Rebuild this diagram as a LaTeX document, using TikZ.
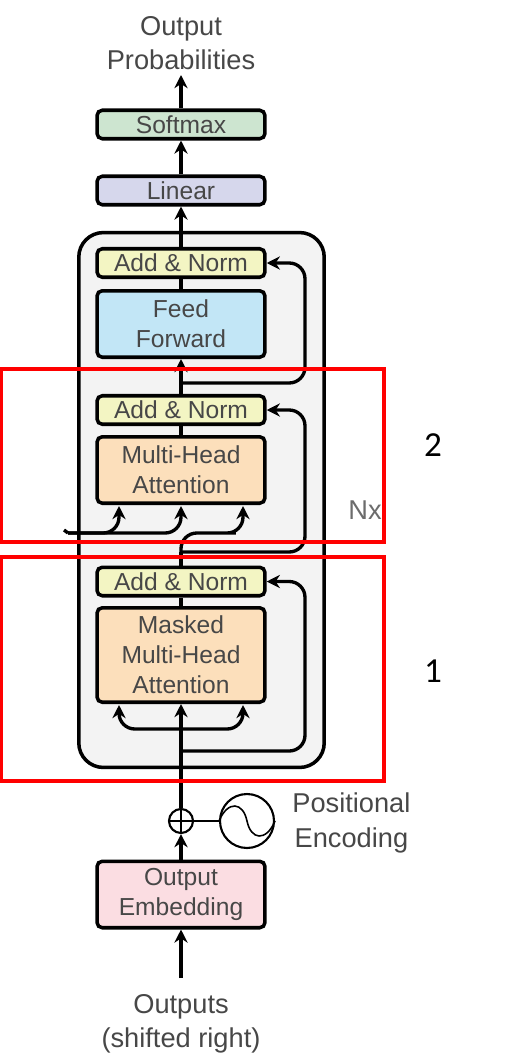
\documentclass[tikz,border=0pt]{standalone}
\usepackage{xcolor}
\usepackage{fontspec}
\usepackage{tikz}
\usetikzlibrary{arrows.meta}
\setmainfont{Liberation Sans}
\newfontfamily\numfont{Carlito}

\definecolor{softgreen}{HTML}{CDE5D0}
\definecolor{softviolet}{HTML}{D6D7EC}
\definecolor{softyellow}{HTML}{F3F5C3}
\definecolor{softblue}{HTML}{C2E6F6}
\definecolor{softorange}{HTML}{FCDFBB}
\definecolor{softpink}{HTML}{FBDDE2}
\definecolor{panelgray}{HTML}{F3F3F3}
\definecolor{labelgray}{HTML}{474747}

\tikzset{
	block/.style={draw=black,line width=2pt,rounded corners=3pt,minimum width=3.36cm,inner sep=0pt,align=center,text=labelgray,font=\fontsize{14}{17}\selectfont},
	thinblock/.style={block,minimum height=0.57cm},
	midblock/.style={block,minimum height=1.33cm},
	plaintext/.style={inner sep=0pt,align=center,text=labelgray,font=\fontsize{15.5}{19.5}\selectfont},
	flow/.style={line width=1.9pt,-{Stealth[length=7.5pt,width=7.5pt]}},
	plainflow/.style={line width=1.9pt},
	curveflow/.style={flow,rounded corners=9pt},
	redbox/.style={draw=red,line width=1.8pt},
}

\begin{document}
\begin{tikzpicture}[x=0.02cm,y=-0.02cm]
	\useasboundingbox (0,0) rectangle (504,1064);

	\node[draw=black,line width=2pt,fill=panelgray,rounded corners=14pt,minimum width=4.91cm,minimum height=10.7cm] (panel) at (201.5,500) {};

	\node[plaintext] (outprob) at (181,43) {Output\\Probabilities};
	\node[thinblock,fill=softgreen] (softmax) at (181,124.5) {Softmax};
	\node[thinblock,fill=softviolet] (linear) at (181,190.5) {Linear};
	\node[thinblock,fill=softyellow] (addtop) at (181,263) {Add \& Norm};
	\node[midblock,fill=softblue] (feed) at (181,324) {Feed\\Forward};
	\node[thinblock,fill=softyellow] (addmid) at (181,410) {Add \& Norm};
	\node[midblock,fill=softorange] (multi) at (181,470) {Multi-Head\\Attention};
	\node[thinblock,fill=softyellow] (addlow) at (181,581.5) {Add \& Norm};
	\node[block,minimum height=1.89cm,fill=softorange] (masked) at (181,655) {Masked\\Multi-Head\\Attention};
	\node[midblock,fill=softpink] (embed) at (181,894.5) {Output\\Embedding};
	\node[plaintext] (outputs) at (181,1024) {Outputs\\(shifted right)};
	\node[plaintext,anchor=west] (posenc) at (292,823) {Positional\\Encoding};
	\node[plaintext,text=labelgray!80] (nx) at (365,510) {Nx};

	\node[draw=black,line width=1.2pt,fill=white,circle,minimum size=0.48cm,inner sep=0pt] (plus) at (181,821) {};
	\node[draw=black,line width=1.2pt,circle,minimum size=1.08cm,inner sep=0pt] (wave) at (247,821) {};
	\draw[line width=0.9pt] (plus.north) -- (plus.south);
	\draw[line width=0.9pt] (plus.west) -- (plus.east);
	\draw[line width=0.9pt] (wave.west) .. controls (228,800) and (243,802) .. (wave.center) .. controls (251,840) and (266,842) .. (wave.east);
	\draw[line width=1.5pt] (plus) -- (wave);

	\coordinate (inputs) at (181,978);
	\coordinate (outtip) at (181,75);
	\coordinate (railtop) at (305,263);
	\coordinate (railmid) at (305,410);
	\coordinate (raillow) at (305,581.5);
	\coordinate (tapfeed) at (181,383);
	\coordinate (tapmulti) at (181,552);
	\coordinate (tapmask) at (181,751);
	\coordinate (tapside) at (181,729);
	\coordinate (maskleft) at (119,705);
	\coordinate (maskright) at (243,705);
	\coordinate (multileft) at (119,506);
	\coordinate (multimid) at (181,506);
	\coordinate (multiright) at (243,506);
	\coordinate (encoder) at (64,530);
	\coordinate (encrail) at (68,533);

	\draw[flow] (inputs) -- (embed);
	\draw[flow] (embed) -- (plus);
	\draw[flow] (plus) -- (masked);
	\draw[plainflow] (masked) -- (addlow);
	\draw[plainflow] (addlow) -- (tapmulti);
	\draw[plainflow] (multi) -- (addmid);
	\draw[flow] (addmid) -- (feed);
	\draw[plainflow] (feed) -- (addtop);
	\draw[flow] (addtop) -- (linear);
	\draw[flow] (linear) -- (softmax);
	\draw[flow] (softmax) -- (outtip);

	\draw[curveflow] (tapfeed) -| (railtop) -- (addtop.east);
	\draw[curveflow] (tapmulti) -| (railmid) -- (addmid.east);
	\draw[curveflow] (tapmask) -| (raillow) -- (addlow.east);
	\draw[curveflow] (tapside) -| (maskleft);
	\draw[curveflow] (tapside) -| (maskright);

	\draw[plainflow] (encoder) -- (encrail);
	\draw[curveflow] (encrail) -| (multileft);
	\draw[curveflow] (encrail) -| (multimid);
	\draw[curveflow] (tapmulti) |- (220,533) -| (multiright);

	\node[inner sep=0pt,font=\numfont\fontsize{20}{24}\selectfont] (numtwo) at (433,445) {2};
	\node[inner sep=0pt,font=\numfont\fontsize{20}{24}\selectfont] (numone) at (433,671) {1};

	\draw[redbox] (1,369) rectangle (384,542);
	\draw[redbox] (1,557) rectangle (384,781);
\end{tikzpicture}
\end{document}
